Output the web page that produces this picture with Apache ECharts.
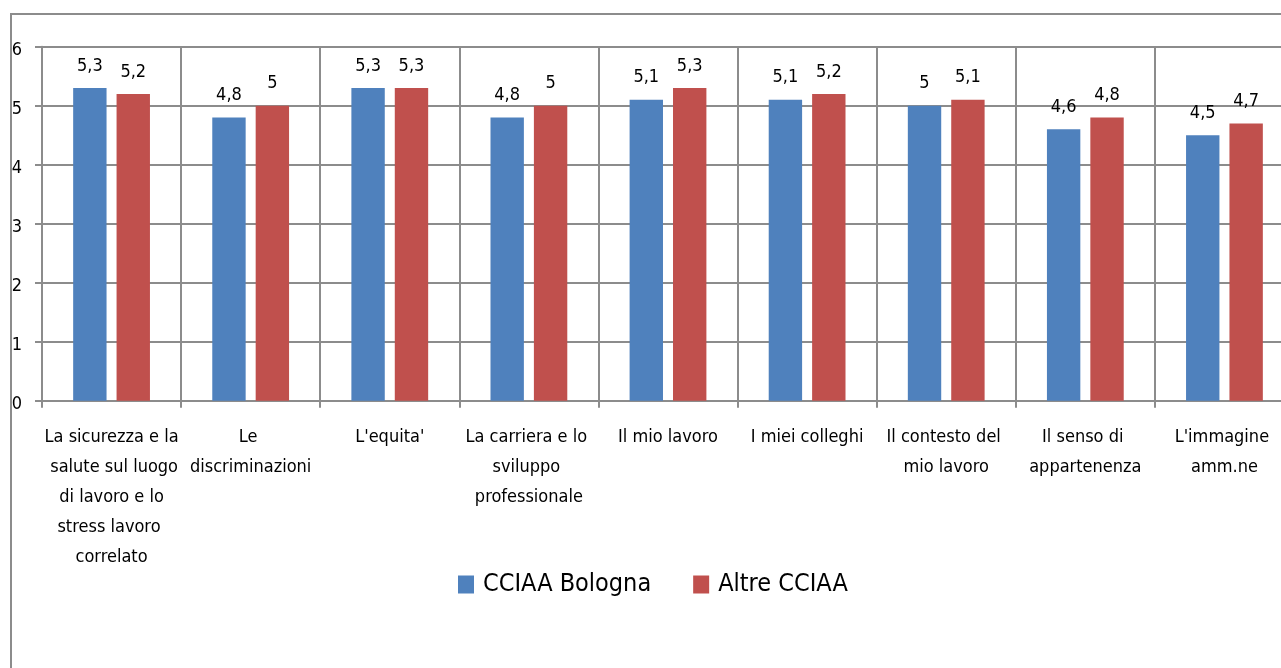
<!DOCTYPE html>
<html>
<head>
<meta charset="utf-8">
<script src="https://cdn.jsdelivr.net/npm/echarts@6/dist/echarts.min.js"></script>
<style>
  html, body { margin: 0; padding: 0; background: #fff; }
  #chart { width: 1281px; height: 668px; }
</style>
</head>
<body>
<div id="chart"></div>
<script>
// dati
var categories = [
    "La sicurezza e la salute sul luogo di lavoro e lo stress lavoro correlato",
    "Le discriminazioni",
    "L'equita'",
    "La carriera e lo sviluppo professionale",
    "Il mio lavoro",
    "I miei colleghi",
    "Il contesto del mio lavoro",
    "Il senso di appartenenza",
    "L'immagine amm.ne"
];
var bologna = [5.3, 4.8, 5.3, 4.8, 5.1, 5.1, 5.0, 4.6, 4.5];
var altre = [5.2, 5.0, 5.3, 5.0, 5.3, 5.2, 5.1, 4.8, 4.7];
var yTicks = [0, 1, 2, 3, 4, 5, 6];

var FONT = "'Liberation Sans Narrow', 'DejaVu Sans Condensed', sans-serif";
var lineColor = "#8c8c8c";

(function () {
    var myChart = echarts.init(document.getElementById("chart"));
    // etichette con la virgola
    var fmt = function (p) {
        return String(p.value).replace(".", ",");
    };
    var option = {
        animation: false,
        textStyle: { fontFamily: FONT },
        graphic: [{
            type: "rect",
            shape: { x: 11, y: 14, width: 1400, height: 800 },
            style: { fill: "none", stroke: lineColor, lineWidth: 2 },
            silent: true
        }],
        legend: {
            top: 567,
            left: 453,
            icon: "rect",
            itemWidth: 16,
            itemHeight: 18,
            itemGap: 42,
            textStyle: { fontSize: 25, color: "#000", fontFamily: FONT, padding: [0, 0, 0, 4] },
            data: ["CCIAA Bologna", "Altre CCIAA"]
        },
        grid: {
            left: 42,
            right: -13,
            top: 46.7,
            bottom: 267.3,
            outerBoundsMode: "none",
            containLabel: false
        },
        xAxis: {
            type: "category",
            data: categories,
            axisLine: { lineStyle: { color: lineColor, width: 2 } },
            axisTick: { show: true, length: 7, lineStyle: { color: lineColor, width: 2 } },
            splitLine: { show: true, lineStyle: { color: lineColor, width: 2 } },
            axisLabel: {
                interval: 0,
                color: "#000",
                fontSize: 18,
                lineHeight: 30,
                margin: 22,
                width: 136,
                overflow: "break",
                fontFamily: FONT
            }
        },
        yAxis: {
            type: "value",
            min: 0,
            max: yTicks[yTicks.length - 1],
            interval: 1,
            axisLine: { show: true, lineStyle: { color: lineColor, width: 2 } },
            axisTick: { show: true, length: 7, lineStyle: { color: lineColor, width: 2 } },
            splitLine: { lineStyle: { color: lineColor, width: 2 } },
            axisLabel: {
                color: "#000",
                fontSize: 18,
                margin: 20,
                fontFamily: FONT,
                // spostamento leggero verso il basso
                formatter: function (v) {
                    return "{n|" + v + "}";
                },
                rich: {
                    n: { fontSize: 18, color: "#000", fontFamily: FONT, padding: [7, 0, 0, 0] }
                }
            }
        },
        series: [
            {
                name: "CCIAA Bologna",
                type: "bar",
                data: bologna,
                barWidth: "24%",
                barGap: "30%",
                itemStyle: { color: "#4F81BD" },
                label: {
                    show: true,
                    position: "top",
                    distance: 13,
                    color: "#000",
                    fontSize: 18,
                    fontFamily: FONT,
                    formatter: fmt
                }
            },
            {
                name: "Altre CCIAA",
                type: "bar",
                data: altre,
                barWidth: "24%",
                itemStyle: { color: "#C0504D" },
                label: {
                    show: true,
                    position: "top",
                    distance: 13,
                    color: "#000",
                    fontSize: 18,
                    fontFamily: FONT,
                    formatter: fmt
                }
            }
        ]
    };
    myChart.setOption(option);
    window.addEventListener("resize", function () {
        myChart.resize();
    });
})();
</script>
</body>
</html>
